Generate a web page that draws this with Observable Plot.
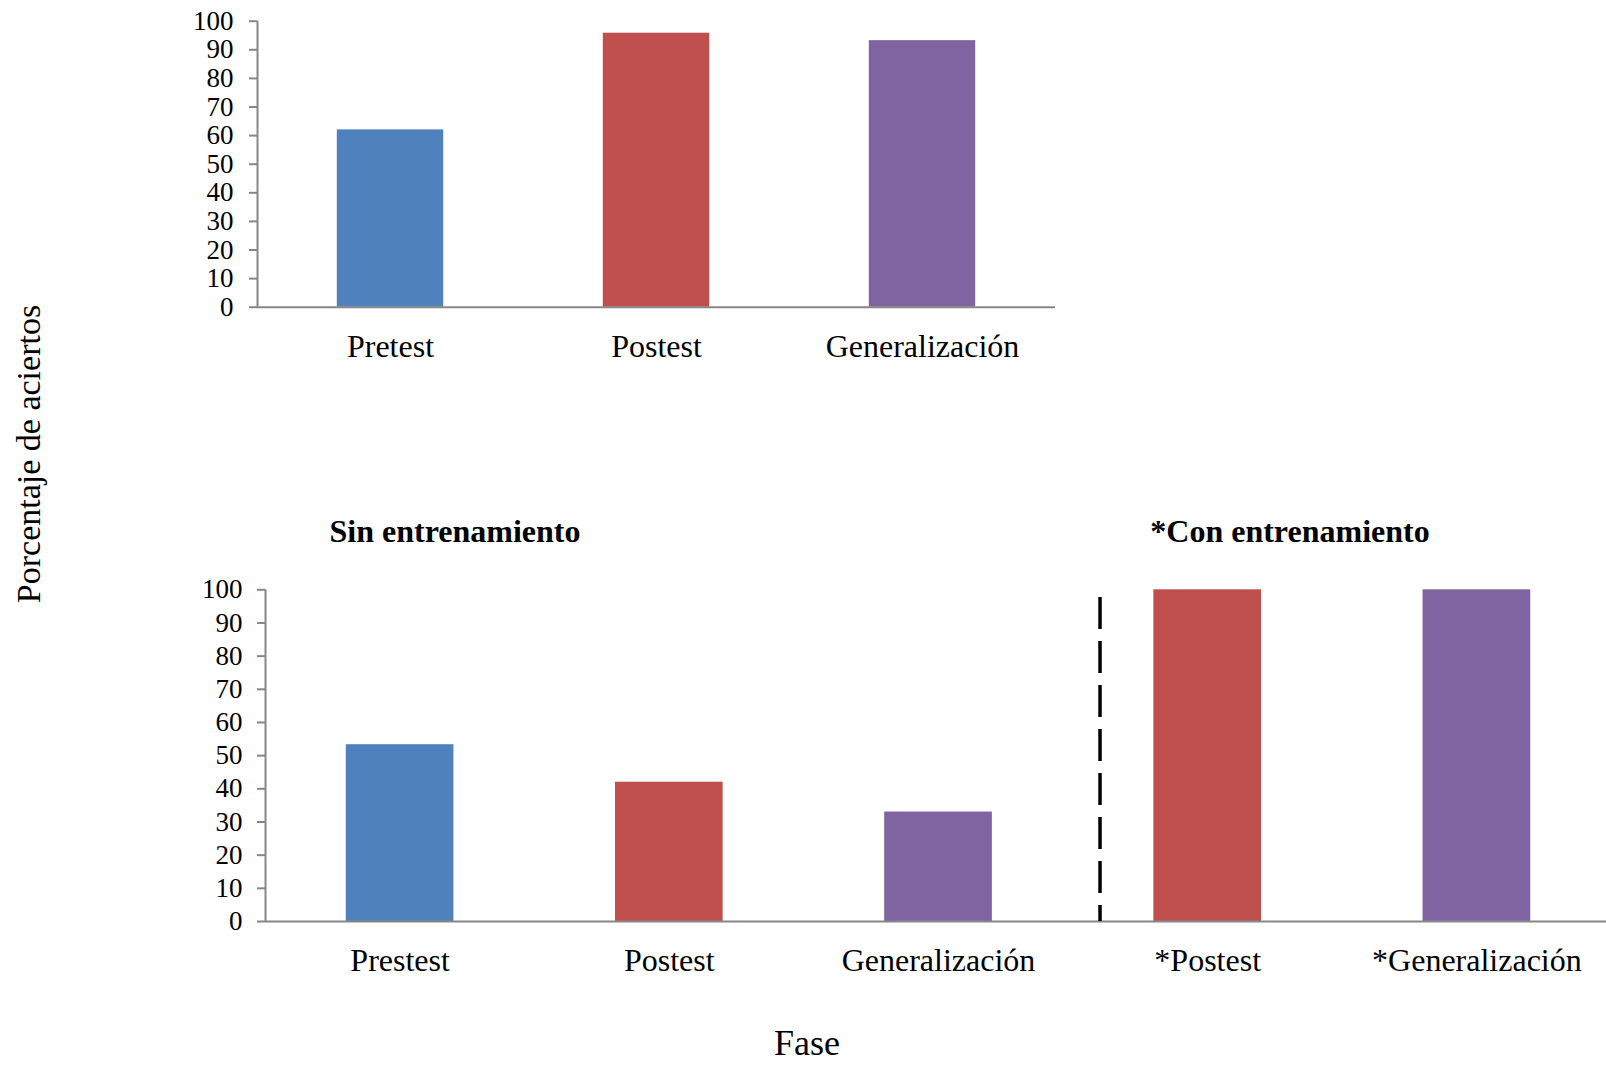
<!DOCTYPE html>
<html>
<head>
<meta charset="utf-8">
<script src="https://cdn.jsdelivr.net/npm/d3@7"></script>
<script src="https://cdn.jsdelivr.net/npm/@observablehq/plot@0.6"></script>
<style>
  html, body { margin: 0; padding: 0; background: #fff; }
  #page { position: relative; width: 1606px; height: 1065px; overflow: hidden; background: #fff;
          font-family: "Liberation Serif", "Times New Roman", serif; color: #000; }
  #page > .panel { position: absolute; left: 0; }
  .lbl { position: absolute; white-space: nowrap; line-height: 1; }
  .panel-title { font-weight: bold; font-size: 32px; transform: translateX(-50%); }
  #ytitle { font-size: 34px; transform: translate(-50%, -50%) rotate(-90deg); }
  #xtitle { font-size: 36px; transform: translateX(-50%); }
  [aria-label="y-axis tick"] path { stroke: #878787; stroke-width: 2px; }
</style>
</head>
<body>
<div id="page">
  <div class="panel" id="top" style="top:0"></div>
  <div class="panel" id="bottom" style="top:560px"></div>
  <div class="lbl panel-title" style="left:455px; top:515px">Sin entrenamiento</div>
  <div class="lbl panel-title" style="left:1290px; top:515px">*Con entrenamiento</div>
  <div class="lbl" id="xtitle" style="left:807px; top:1025px">Fase</div>
  <div class="lbl" id="ytitle" style="left:29px; top:454px">Porcentaje de aciertos</div>
</div>
<script>
// Phases and percentage of correct answers
const topPhases = ["Pretest", "Postest", "Generalización"];
const topKinds = ["pre", "post", "gen"];
const topValues = [62, 95.8, 93.2];

const bottomPhases = ["Prestest", "Postest", "Generalización", "*Postest", "*Generalización"];
const bottomKinds = ["pre", "post", "gen", "post", "gen"];
const bottomValues = [53.3, 42, 33, 100, 100];

const yTicks = [0, 10, 20, 30, 40, 50, 60, 70, 80, 90, 100];

// Divider between untrained and trained phases (x in phase units, top in %)
const dividerX = 2.6;
const dividerTop = 97.7;

const kindDomain = ["pre", "post", "gen"];
const kindColors = ["#4F81BD", "#C0504D", "#8064A2"];
const axisGray = "#878787";
const halfBar = 0.2;

const rows = (phases, kinds, values) =>
  phases.map((p, i) => ({phase: p, i, kind: kinds[i], value: values[i]}));

function panel({phases, kinds, values, width, height, marginLeft, marginRight, marginTop, marginBottom,
                tickPadding, labelPadding, extra = []}) {
  const data = rows(phases, kinds, values);
  return Plot.plot({
    width, height, marginLeft, marginRight, marginTop, marginBottom,
    style: {fontFamily: "'Liberation Serif', 'Times New Roman', serif", background: "transparent",
            overflow: "visible", maxWidth: "none"},
    x: {domain: [-0.5, phases.length - 0.5]},
    y: {domain: [0, 100]},
    color: {domain: kindDomain, range: kindColors},
    marks: [
      Plot.rectY(data, {x1: d => d.i - halfBar, x2: d => d.i + halfBar, y1: 0, y2: "value", fill: "kind"}),
      Plot.ruleX([-0.5], {y1: 0, y2: 100, stroke: axisGray, strokeWidth: 2}),
      Plot.ruleY([0], {stroke: axisGray, strokeWidth: 2}),
      Plot.axisY(yTicks, {tickSize: 8, tickPadding, fontSize: 27, label: null, color: "black", tickFormat: d => String(d)}),
      Plot.axisX(data.map(d => d.i), {tickSize: 0, tickPadding: labelPadding, fontSize: 32, label: null,
                                      color: "black", tickFormat: i => phases[i]}),
      ...extra
    ]
  });
}

document.getElementById("top").append(panel({
  phases: topPhases, kinds: topKinds, values: topValues,
  width: 1080, height: 370, marginLeft: 257, marginRight: 25, marginTop: 20.7, marginBottom: 63.3,
  tickPadding: 16, labelPadding: 27.5
}));

document.getElementById("bottom").append(panel({
  phases: bottomPhases, kinds: bottomKinds, values: bottomValues,
  width: 1620, height: 420, marginLeft: 265, marginRight: 9, marginTop: 29.3, marginBottom: 59,
  tickPadding: 15, labelPadding: 26.5,
  extra: [
    Plot.ruleX([dividerX], {y1: dividerTop, y2: 0, stroke: "black", strokeWidth: 3.5, strokeDasharray: "32,12"})
  ]
}));
</script>
</body>
</html>
